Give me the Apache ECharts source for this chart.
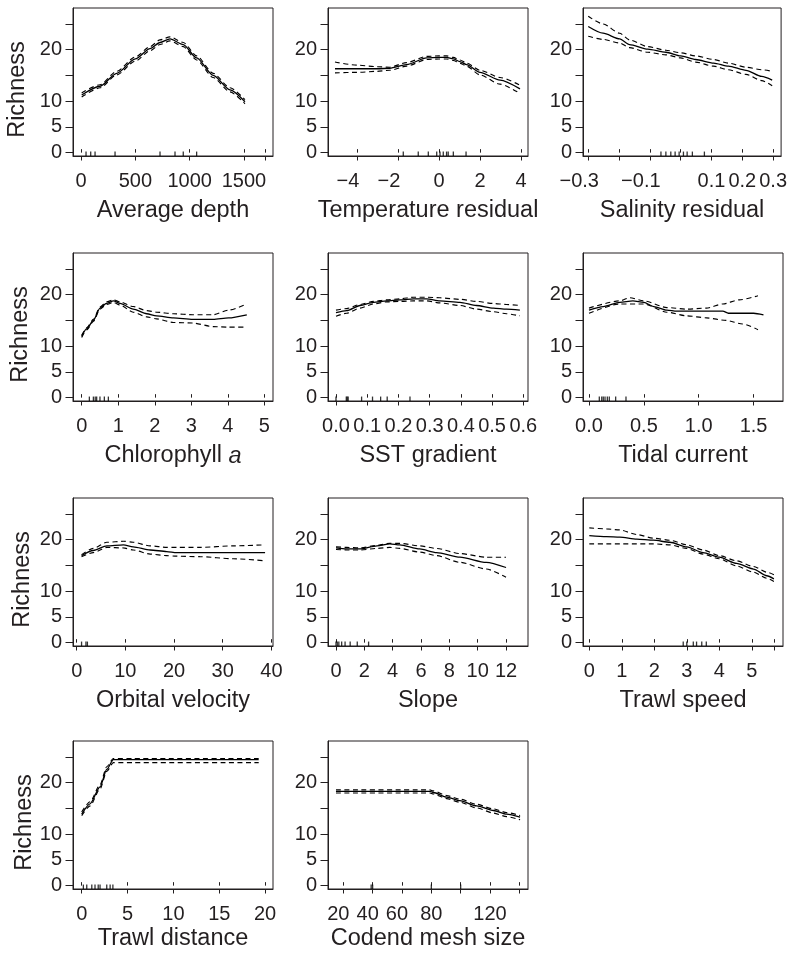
<!DOCTYPE html>
<html><head><meta charset="utf-8">
<script src="https://cdn.jsdelivr.net/npm/echarts@6/dist/echarts.min.js"></script>
<style>html,body{margin:0;padding:0;background:#fff}#c{width:790px;height:955px}</style>
</head><body><div id="c"></div>
<script>
// ---------- shared y axis ----------
const yTicks = [0, 5, 10, 15, 20, 25];
const yLabels = [0, 5, 10, 20];

// ---------- Average depth ----------
const depthTicks = [0, 500, 1000, 1500, 1700];
const depthLabels = [0, 500, 1000, 1500];
const depthX = [6, 175, 328, 500, 635, 727, 819, 941, 1064, 1217, 1371, 1509];
const depthFit = [11.2, 12.9, 15.4, 18.2, 20.2, 21.4, 22.1, 21.0, 18.4, 15.0, 12.2, 9.9];
const depthUpper = [11.6, 13.2, 15.8, 18.6, 20.6, 21.9, 22.5, 21.4, 18.8, 15.4, 12.6, 10.3];
const depthLower = [10.8, 12.6, 15.1, 17.8, 19.8, 21.0, 21.7, 20.6, 18.0, 14.6, 11.8, 9.5];
const depthRug = [46, 89, 129, 313, 727, 865, 941, 1064];

// ---------- Temperature residual ----------
const tempTicks = [-4, -2, 0, 2, 4];
const tempLabels = [-4, -2, 0, 2, 4];
const tempX = [-5.07, -4, -3, -2.4, -1.58, -0.6, 0, 0.37, 0.7, 1.02, 1.35, 2.0, 2.98, 3.95];
const tempFit = [16.3, 16.3, 16.3, 16.4, 17.1, 18.4, 18.5, 18.5, 18.2, 17.7, 17.1, 15.6, 14.1, 12.4];
const tempUpper = [17.6, 17.0, 16.7, 16.6, 17.5, 18.7, 18.8, 18.8, 18.5, 18.0, 17.4, 16.0, 14.6, 13.1];
const tempLower = [15.5, 15.6, 15.8, 16.0, 16.8, 18.1, 18.2, 18.2, 17.9, 17.4, 16.8, 15.1, 13.3, 11.5];
const tempRug = [-1.74, -1.01, -0.52, -0.11, 0.05, 0.21, 0.37, 0.45, 0.70, 1.32];

// ---------- Salinity residual ----------
const salTicks = [-0.3, -0.2, -0.1, 0, 0.1, 0.2, 0.3];
const salLabels = [-0.3, -0.1, 0.1, 0.2, 0.3];
const salX = [-0.30, -0.252, -0.198, -0.166, -0.107, -0.048, 0, 0.048, 0.107, 0.155, 0.212, 0.263, 0.297];
const salFit = [24.5, 23.2, 22.1, 21.0, 20.1, 19.5, 18.8, 18.1, 17.4, 16.8, 16.0, 14.8, 14.1];
const salUpper = [26.5, 25.0, 23.2, 21.9, 20.6, 19.9, 19.4, 18.8, 18.1, 17.4, 16.6, 16.1, 15.8];
const salLower = [22.6, 22.0, 21.3, 20.4, 19.5, 19.0, 18.4, 17.6, 16.8, 16.1, 15.2, 14.0, 13.0];
const salRug = [-0.064, -0.048, -0.032, -0.018, -0.005, 0.009, 0.021, 0.038, 0.077];

// ---------- Chlorophyll a ----------
const chlTicks = [0, 1, 2, 3, 4, 5];
const chlLabels = [0, 1, 2, 3, 4, 5];
const chlX = [0, 0.14, 0.32, 0.5, 0.68, 0.87, 1.05, 1.41, 1.78, 2.05, 2.51, 3.04, 3.6, 4.02, 4.52];
const chlFit = [11.9, 13.4, 15.0, 17.4, 18.3, 18.8, 18.3, 17.2, 16.3, 15.9, 15.5, 15.2, 15.2, 15.5, 16.1];
const chlUpper = [12.1, 13.6, 15.2, 17.6, 18.6, 19.0, 18.6, 17.7, 16.9, 16.6, 16.3, 16.1, 16.1, 17.0, 18.2];
const chlLower = [11.7, 13.2, 14.8, 17.2, 18.1, 18.5, 18.0, 16.6, 15.7, 15.3, 14.6, 14.5, 13.8, 13.7, 13.7];
const chlRug = [0.21, 0.32, 0.37, 0.41, 0.50, 0.62, 0.73];

// ---------- SST gradient ----------
const sstTicks = [0, 0.1, 0.2, 0.3, 0.4, 0.5, 0.6];
const sstLabels = [0, 0.1, 0.2, 0.3, 0.4, 0.5, 0.6];
const sstX = [0, 0.034, 0.077, 0.12, 0.162, 0.205, 0.248, 0.29, 0.333, 0.397, 0.45, 0.504, 0.546, 0.589];
const sstFit = [16.5, 16.9, 17.9, 18.5, 18.8, 19.0, 19.2, 19.2, 18.8, 18.5, 17.9, 17.4, 17.2, 17.0];
const sstUpper = [17.0, 17.3, 18.1, 18.7, 19.0, 19.2, 19.5, 19.5, 19.4, 19.1, 18.7, 18.3, 18.1, 17.9];
const sstLower = [15.8, 16.4, 17.4, 18.2, 18.6, 18.7, 18.8, 18.8, 18.4, 17.9, 17.2, 16.7, 16.3, 15.9];
const sstRug = [0, 0.033, 0.036, 0.039, 0.082, 0.117, 0.143, 0.164, 0.237];

// ---------- Tidal current ----------
const tidTicks = [0, 0.5, 1.0, 1.5];
const tidLabels = [0, 0.5, 1.0, 1.5];
const tidX = [0, 0.13, 0.28, 0.40, 0.5, 0.59, 0.71, 0.80, 1.01, 1.22, 1.27, 1.50, 1.59];
const tidFit = [17.0, 17.7, 18.5, 18.8, 18.5, 17.7, 17.0, 16.8, 16.8, 16.8, 16.4, 16.4, 16.1];
const tidUpperX = [0, 0.28, 0.37, 0.5, 0.71, 0.89, 1.07, 1.22, 1.37, 1.54];
const tidUpper = [17.4, 18.8, 19.4, 18.8, 17.5, 17.2, 17.4, 18.2, 19.0, 19.8];
const tidLowerX = [0, 0.28, 0.5, 0.71, 0.89, 1.07, 1.25, 1.40, 1.54];
const tidLower = [16.4, 18.2, 18.2, 16.6, 15.9, 15.5, 15.0, 14.3, 13.2];
const tidRug = [0.094, 0.116, 0.13, 0.146, 0.167, 0.185, 0.243, 0.337];

// ---------- Orbital velocity ----------
const orbTicks = [0, 10, 20, 30, 40];
const orbLabels = [0, 10, 20, 30, 40];
const orbX = [1.0, 3.4, 6.2, 9.6, 11.6, 15.1, 18.5, 20.5, 25.3, 32.2, 38.7];
const orbFit = [16.9, 17.9, 18.8, 19.0, 18.6, 18.0, 17.7, 17.5, 17.5, 17.5, 17.5];
const orbUpper = [17.1, 18.3, 19.5, 19.7, 19.5, 18.8, 18.5, 18.5, 18.5, 18.8, 19.0];
const orbLower = [16.7, 17.5, 18.5, 18.4, 18.0, 17.2, 16.9, 16.8, 16.7, 16.3, 15.9];
const orbRug = [1.0, 1.9, 2.2];

// ---------- Slope ----------
const slopeTicks = [0, 2, 4, 6, 8, 10, 12];
const slopeLabels = [0, 2, 4, 6, 8, 10, 12];
const slopeX = [0, 0.75, 1.7, 2.9, 3.8, 4.5, 5.9, 7.1, 8.75, 10.6, 12.0];
const slopeFit = [18.4, 18.2, 18.2, 18.8, 19.2, 19.0, 18.2, 17.5, 16.6, 15.6, 14.6];
const slopeUpper = [18.6, 18.5, 18.4, 18.9, 19.3, 19.3, 18.8, 18.3, 17.3, 16.6, 16.6];
const slopeLower = [18.1, 18.0, 18.0, 18.3, 18.5, 18.3, 17.6, 16.9, 15.6, 14.3, 12.7];
const slopeRug = [0, 0.09, 0.2, 0.4, 0.64, 1.0, 1.5, 2.3];

// ---------- Trawl speed ----------
const spdTicks = [0, 1, 2, 3, 4, 5, 5.7];
const spdLabels = [0, 1, 2, 3, 4, 5];
const spdX = [0, 0.53, 0.94, 1.46, 1.97, 2.48, 3.0, 3.5, 4.0, 4.53, 5.05, 5.46, 5.68];
const spdFit = [20.8, 20.6, 20.5, 20.1, 19.9, 19.5, 18.6, 17.5, 16.6, 15.4, 14.3, 13.0, 12.4];
const spdUpper = [22.3, 22.1, 21.9, 21.0, 20.3, 19.9, 19.0, 18.0, 16.9, 15.9, 14.8, 13.7, 13.2];
const spdLower = [19.2, 19.2, 19.2, 19.2, 19.2, 19.0, 18.3, 17.2, 16.3, 14.9, 13.7, 12.5, 11.9];
const spdRug = [2.89, 3.0, 3.2, 3.3, 3.46, 3.6];

// ---------- Trawl distance ----------
const distTicks = [0, 5, 10, 15, 20];
const distLabels = [0, 5, 10, 15, 20];
const distX = [0, 0.91, 2.0, 2.73, 3.45, 5.6, 19.3];
const distFit = [13.9, 15.9, 19.2, 22.6, 24.5, 24.5, 24.5];
const distUpper = [14.3, 16.3, 19.6, 23.1, 24.7, 24.7, 24.7];
const distLower = [13.6, 15.5, 18.8, 22.2, 23.9, 23.9, 23.9];
const distRug = [0.18, 0.55, 1.1, 1.45, 1.8, 2.0, 2.73, 3.1, 3.4];

// ---------- Codend mesh size ----------
const meshTicks = [20, 40, 60, 80, 100, 120, 140];
const meshLabels = [20, 40, 60, 80, 120];
const meshShifted = [20, 40, 60];   // labels set slightly left of their ticks in the source
const meshX = [15, 79, 81.4, 90.5, 99.5, 110.9, 122.3, 131.4, 140.5];
const meshFit = [18.3, 18.3, 18.1, 17.2, 16.5, 15.5, 14.6, 13.9, 13.3];
const meshUpper = [18.6, 18.6, 18.4, 17.5, 16.8, 15.8, 14.9, 14.2, 13.6];
const meshLower = [18.0, 18.0, 17.8, 16.9, 16.2, 15.1, 14.1, 13.4, 12.8];
const meshRug = [39, 40, 80, 100];

// ---------- layout / style ----------
const FONT = 'Liberation Sans, Arial, Helvetica, sans-serif';
const INK = '#231f20';
const COL_LEFT = [73, 328, 583];
const ROW_TOP = [8, 253, 498, 741];
const PW = 200, PH = 148;
const Y_MIN = -0.65, Y_MAX = 28.1;

const zip = (xs, ys) => xs.map((x, i) => [x, ys[i]]);

const panels = [
  {name: 'Average depth', min: -74, max: 1767, ticks: depthTicks, labels: depthLabels, dec: 0,
   fit: zip(depthX, depthFit), up: zip(depthX, depthUpper), lo: zip(depthX, depthLower), rug: depthRug},
  {name: 'Temperature residual', min: -5.41, max: 4.34, ticks: tempTicks, labels: tempLabels, dec: 0,
   fit: zip(tempX, tempFit), up: zip(tempX, tempUpper), lo: zip(tempX, tempLower), rug: tempRug},
  {name: 'Salinity residual', min: -0.317, max: 0.326, ticks: salTicks, labels: salLabels, dec: 1,
   fit: zip(salX, salFit), up: zip(salX, salUpper), lo: zip(salX, salLower), rug: salRug},
  {name: 'Chlorophyll {i|a}', min: -0.238, max: 5.237, ticks: chlTicks, labels: chlLabels, dec: 0,
   fit: zip(chlX, chlFit), up: zip(chlX, chlUpper), lo: zip(chlX, chlLower), rug: chlRug},
  {name: 'SST gradient', min: -0.0256, max: 0.615, ticks: sstTicks, labels: sstLabels, dec: 1,
   fit: zip(sstX, sstFit), up: zip(sstX, sstUpper), lo: zip(sstX, sstLower), rug: sstRug},
  {name: 'Tidal current', min: -0.0547, max: 1.768, ticks: tidTicks, labels: tidLabels, dec: 1,
   fit: zip(tidX, tidFit), up: zip(tidUpperX, tidUpper), lo: zip(tidLowerX, tidLower), rug: tidRug},
  {name: 'Orbital velocity', min: -0.76, max: 40.33, ticks: orbTicks, labels: orbLabels, dec: 0,
   fit: zip(orbX, orbFit), up: zip(orbX, orbUpper), lo: zip(orbX, orbLower), rug: orbRug},
  {name: 'Slope', min: -0.565, max: 13.55, ticks: slopeTicks, labels: slopeLabels, dec: 0,
   fit: zip(slopeX, slopeFit), up: zip(slopeX, slopeUpper), lo: zip(slopeX, slopeLower), rug: slopeRug},
  {name: 'Trawl speed', min: -0.194, max: 5.96, ticks: spdTicks, labels: spdLabels, dec: 0,
   fit: zip(spdX, spdFit), up: zip(spdX, spdUpper), lo: zip(spdX, spdLower), rug: spdRug},
  {name: 'Trawl distance', min: -0.95, max: 20.86, ticks: distTicks, labels: distLabels, dec: 0,
   fit: zip(distX, distFit), up: zip(distX, distUpper), lo: zip(distX, distLower), rug: distRug},
  {name: 'Codend mesh size', min: 9.57, max: 145.9, ticks: meshTicks, labels: meshLabels, dec: 0,
   shifted: meshShifted,
   fit: zip(meshX, meshFit), up: zip(meshX, meshUpper), lo: zip(meshX, meshLower), rug: meshRug}
];

const grids = [], xAxes = [], yAxes = [], series = [], graphics = [];
const txt = {fontFamily: FONT, color: INK};

panels.forEach((p, i) => {
  const row = Math.floor(i / 3), col = i % 3;
  grids.push({left: COL_LEFT[col], top: ROW_TOP[row], width: PW, height: PH,
    show: true, borderColor: INK, borderWidth: 1, backgroundColor: 'transparent'});
  const fmt = v => {
    const s = Math.abs(v).toFixed(p.dec);
    if (v < 0) return '{n|\u2212' + s + '}';
    if (p.shifted && p.shifted.indexOf(v) >= 0) return '{s|' + s + '}';
    return s;
  };
  xAxes.push({
    gridIndex: i, type: 'value', min: p.min, max: p.max, position: 'bottom',
    axisLine: {show: true, onZero: false, lineStyle: {color: INK, width: 1}},
    axisTick: {show: true, customValues: p.ticks, length: 4.5, lineStyle: {color: INK, width: 1}},
    axisLabel: {customValues: p.labels, formatter: fmt, margin: 15, fontSize: 20, ...txt,
      rich: {n: {fontSize: 20, ...txt, padding: [0, 18, 0, 0]},
             s: {fontSize: 20, ...txt, padding: [0, 10, 0, 0]}}},
    splitLine: {show: false},
    name: p.name, nameLocation: 'middle', nameGap: row === 3 ? 38 : 43,
    nameTextStyle: {fontSize: 23.5, ...txt, rich: {i: {fontSize: 23.5, fontStyle: 'italic', ...txt}}}
  });
  xAxes.push({
    gridIndex: i, type: 'value', min: p.min, max: p.max, position: 'bottom',
    axisLine: {show: false},
    axisTick: {show: true, inside: true, customValues: p.ticks, length: 3.5, lineStyle: {color: INK, width: 1}},
    axisLabel: {show: false}, splitLine: {show: false}
  });
  yAxes.push({
    gridIndex: i, type: 'value', min: Y_MIN, max: Y_MAX,
    axisLine: {show: true, onZero: false, lineStyle: {color: INK, width: 1}},
    axisTick: {show: true, customValues: yTicks, length: 7.5, lineStyle: {color: INK, width: 1}},
    axisLabel: {customValues: yLabels, margin: 11, fontSize: 20, ...txt},
    splitLine: {show: false}
  });
  const base = {type: 'line', xAxisIndex: 2 * i, yAxisIndex: i, symbol: 'none', showSymbol: false,
    smooth: 0.25, smoothMonotone: 'x', silent: true};
  series.push({...base, data: p.fit, lineStyle: {color: '#000', width: 1.3}});
  series.push({...base, data: p.up, lineStyle: {color: '#000', width: 1.15, type: [5, 3.5]}});
  series.push({...base, data: p.lo, lineStyle: {color: '#000', width: 1.15, type: [5, 3.5]}});
  series.push({type: 'scatter', xAxisIndex: 2 * i, yAxisIndex: i, clip: false, silent: true,
    symbol: 'rect', symbolSize: [1.3, 4.5], symbolOffset: [0, -2.2],
    itemStyle: {color: '#000'}, data: p.rug.map(x => [x, Y_MIN])});
});

const RICH_X = [18, 21, 22.5, 25];
ROW_TOP.forEach((t, r) => {
  graphics.push({type: 'text', x: RICH_X[r], y: t + 144.5 - 63, rotation: Math.PI / 2,
    style: {text: 'Richness', fontSize: 23.5, fontFamily: FONT, fill: INK, align: 'center', verticalAlign: 'middle'}});
});

const chart = echarts.init(document.getElementById('c'), null, {renderer: 'canvas'});
chart.setOption({animation: false, backgroundColor: '#fff', grid: grids, xAxis: xAxes, yAxis: yAxes,
  series: series, graphic: graphics});
</script></body></html>
